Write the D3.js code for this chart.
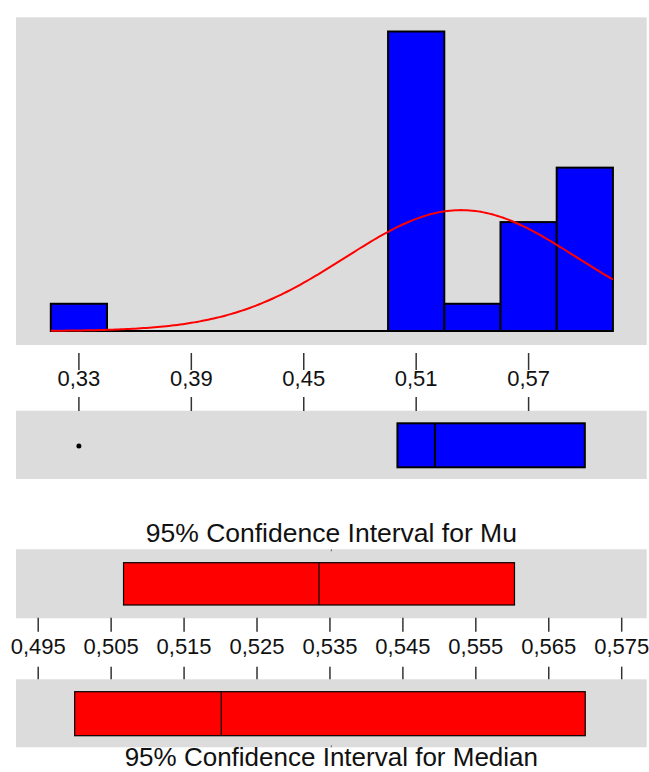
<!DOCTYPE html>
<html>
<head>
<meta charset="utf-8">
<script src="https://cdn.jsdelivr.net/npm/d3@7"></script>
<style>
  html, body { margin: 0; padding: 0; background: #fff; }
  svg { display: block; }
  text { font-family: "Liberation Sans", Arial, sans-serif; fill: #111; }
</style>
</head>
<body>
<svg id="chart" width="649" height="772"></svg>
<script>
// ---- Data ----
const binEdges = [0.315, 0.345, 0.375, 0.405, 0.435, 0.465, 0.495, 0.525, 0.555, 0.585, 0.615];
const binCounts = [1, 0, 0, 0, 0, 0, 11, 1, 4, 6];
const fitMean = 0.534;
const fitSd = 0.062;
const histTicks = [0.33, 0.39, 0.45, 0.51, 0.57];
const boxValues = [0.500, 0.520, 0.600];   // Q1, median, Q3
const boxOutliers = [0.33];
const ciMu = [0.5067, 0.5335, 0.5603];      // lower, mean, upper
const ciMedian = [0.500, 0.5201, 0.570];    // lower, median, upper
const ciTicks = [0.495, 0.505, 0.515, 0.525, 0.535, 0.545, 0.555, 0.565, 0.575];
const titleMu = "95% Confidence Interval for Mu";
const titleMedian = "95% Confidence Interval for Median";

// ---- Layout ----
const svg = d3.select("#chart");
const GRAY = "#DCDCDC";
const panelX0 = 16, panelX1 = 646.7;
const fmt = v => d3.format(v.toString().split(".")[1].length > 2 ? ".3f" : ".2f")(v).replace(".", ",");

const x = d3.scaleLinear().domain([0.33, 0.57]).range([78.9, 528.6]);
const y = d3.scaleLinear().domain([0, 11]).range([331, 31.5]);
const xc = d3.scaleLinear().domain([0.495, 0.575]).range([38.2, 621.7]);

function panel(y0, y1) {
  svg.append("rect").attr("x", panelX0).attr("y", y0)
    .attr("width", panelX1 - panelX0).attr("height", y1 - y0).attr("fill", GRAY);
}

// Panels
panel(17.3, 345);
panel(410.7, 479);
panel(549.3, 618.3);
panel(679.3, 747.3);

// ---- Histogram ----
const bins = binCounts.map((c, i) => ({ x0: binEdges[i], x1: binEdges[i + 1], c }));
svg.append("line")
  .attr("x1", x(binEdges[0])).attr("x2", x(binEdges[binEdges.length - 1]))
  .attr("y1", y(0)).attr("y2", y(0))
  .attr("stroke", "#000").attr("stroke-width", 2);
svg.append("g").selectAll("rect").data(bins.filter(b => b.c > 0)).join("rect")
  .attr("x", d => x(d.x0)).attr("width", d => x(d.x1) - x(d.x0))
  .attr("y", d => y(d.c)).attr("height", d => y(0) - y(d.c))
  .attr("fill", "#0000FF").attr("stroke", "#000").attr("stroke-width", 2);

// Normal fit curve
const n = d3.sum(binCounts);
const bw = binEdges[1] - binEdges[0];
const pdf = v => Math.exp(-0.5 * ((v - fitMean) / fitSd) ** 2) / (fitSd * Math.sqrt(2 * Math.PI));
const curvePts = d3.range(0, 201).map(i => {
  const v = binEdges[0] + (binEdges[binEdges.length - 1] - binEdges[0]) * i / 200;
  return [v, n * bw * pdf(v)];
});
svg.append("path").datum(curvePts)
  .attr("d", d3.line().x(d => x(d[0])).y(d => y(d[1])).curve(d3.curveLinear))
  .attr("fill", "none").attr("stroke", "#FF0000").attr("stroke-width", 2);

// ---- Axis (ticks above and below labels) ----
function tickAxis(scale, ticks, yTop0, yTop1, yLab, yBot0, yBot1) {
  const g = svg.append("g");
  g.selectAll("line.t").data(ticks).join("line")
    .attr("x1", d => scale(d)).attr("x2", d => scale(d))
    .attr("y1", yTop0).attr("y2", yTop1)
    .attr("stroke", "#333").attr("stroke-width", 1.5);
  g.selectAll("line.b").data(ticks).join("line")
    .attr("x1", d => scale(d)).attr("x2", d => scale(d))
    .attr("y1", yBot0).attr("y2", yBot1)
    .attr("stroke", "#333").attr("stroke-width", 1.5);
  g.selectAll("text").data(ticks).join("text")
    .attr("x", d => scale(d)).attr("y", yLab)
    .attr("text-anchor", "middle").attr("font-size", 22)
    .text(d => fmt(d));
}
tickAxis(x, histTicks, 353, 370, 385.5, 397, 411);

// ---- Boxplot ----
const bY0 = 423.3, bY1 = 467.3;
svg.append("rect")
  .attr("x", x(boxValues[0])).attr("width", x(boxValues[2]) - x(boxValues[0]))
  .attr("y", bY0).attr("height", bY1 - bY0)
  .attr("fill", "#0000FF").attr("stroke", "#000").attr("stroke-width", 2);
svg.append("line")
  .attr("x1", x(boxValues[1])).attr("x2", x(boxValues[1]))
  .attr("y1", bY0).attr("y2", bY1)
  .attr("stroke", "#000").attr("stroke-width", 2);
svg.selectAll("circle.out").data(boxOutliers).join("circle")
  .attr("cx", d => x(d)).attr("cy", 446).attr("r", 2.5).attr("fill", "#000");

// ---- Confidence intervals ----
function ciBox(vals, y0, y1) {
  svg.append("rect")
    .attr("x", xc(vals[0])).attr("width", xc(vals[2]) - xc(vals[0]))
    .attr("y", y0).attr("height", y1 - y0)
    .attr("fill", "#FF0000").attr("stroke", "#000").attr("stroke-width", 1.2);
  svg.append("line")
    .attr("x1", xc(vals[1])).attr("x2", xc(vals[1]))
    .attr("y1", y0).attr("y2", y1)
    .attr("stroke", "#000").attr("stroke-width", 1.2);
}
ciBox(ciMu, 562.7, 605);
ciBox(ciMedian, 691.7, 735.7);
tickAxis(xc, ciTicks, 617.7, 631.7, 654, 666.7, 679.3);

// tiny marks at panel centres
const cx = (panelX0 + panelX1) / 2;
svg.append("line").attr("x1", cx).attr("x2", cx).attr("y1", 549.3).attr("y2", 551.3)
  .attr("stroke", "#666").attr("stroke-width", 1);
svg.append("line").attr("x1", cx).attr("x2", cx).attr("y1", 745.3).attr("y2", 747.3)
  .attr("stroke", "#666").attr("stroke-width", 1);

// Titles
svg.append("text").attr("x", cx).attr("y", 541.5).attr("text-anchor", "middle")
  .attr("font-size", 26.5).text(titleMu);
svg.append("text").attr("x", cx).attr("y", 766).attr("text-anchor", "middle")
  .attr("font-size", 26).text(titleMedian);
</script>
</body>
</html>
